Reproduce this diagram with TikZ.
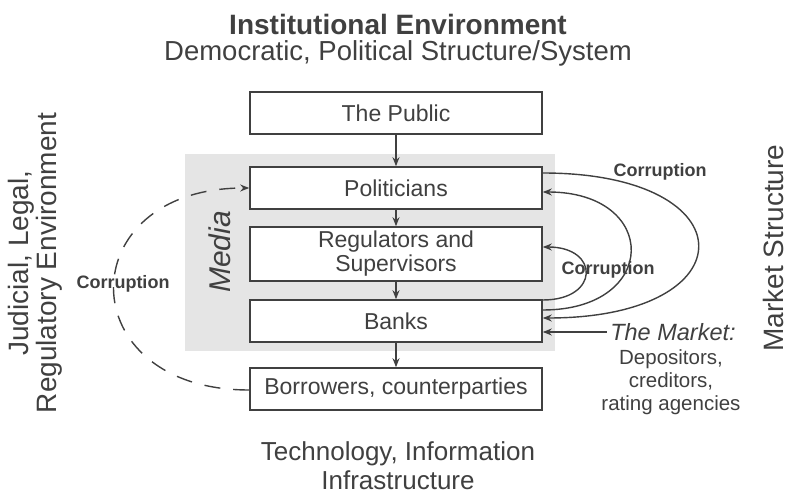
\documentclass[tikz,border=0pt]{standalone}
\usepackage{fontspec}
\setmainfont{Liberation Sans}
\usetikzlibrary{arrows.meta}

\definecolor{ink}{gray}{0.25}
\definecolor{mediagray}{gray}{0.9}

\tikzset{
  box/.style={draw=ink, line width=1.6pt, fill=white, minimum width=292pt,
    minimum height=42pt, inner sep=0pt, align=center, text=ink,
    font=\fontsize{23}{24}\selectfont},
  link/.style={draw=ink, line width=1.4pt, -{Stealth[length=9pt,width=7pt]}},
  sidetext/.style={text=ink, align=center, inner sep=0pt, font=\fontsize{28}{28}\selectfont},
  corr/.style={text=ink, font=\bfseries\fontsize{18}{20}\selectfont},
}

\begin{document}
\begin{tikzpicture}[x=1pt, y=-1pt]
\useasboundingbox (0,0) rectangle (790,494);

% media band behind the chain
\fill[mediagray] (185,154) rectangle (555,351);
\node[rotate=90, text=ink, font=\itshape\fontsize{30}{32}\selectfont] (media) at (220,252) {Media};

\node[sidetext, font=\bfseries\fontsize{28}{30}\selectfont] (inst) at (398,24) {Institutional Environment};
\node[sidetext, font=\fontsize{27.5}{28}\selectfont] (demo) at (398,53) {Democratic, Political Structure/System};

\node[sidetext, rotate=90] (judicial) at (35,263) {Judicial, Legal,\\Regulatory Environment};
\node[sidetext, rotate=90] (structure) at (773,248) {Market Structure};
\node[sidetext, font=\fontsize{26}{29}\selectfont] (tech) at (398,466) {Technology, Information\\Infrastructure};

% the chain of boxes
\node[box] (public) at (396,113) {The Public};
\node[box] (politicians) at (396,188) {Politicians};
\node[box, minimum height=54pt] (regulators) at (396,254) {Regulators and\\Supervisors};
\node[box] (banks) at (396,321) {Banks};
\node[box] (borrowers) at (396,389) {Borrowers, counterparties};

\draw[link] (public) -- (politicians);
\draw[link] (politicians) -- (regulators);
\draw[link] (regulators) -- (banks);
\draw[link] (banks) -- (borrowers);

% market side
\node[text=ink, font=\itshape\fontsize{23.5}{25}\selectfont] (market) at (673,332) {The Market:};
\node[text=ink, align=center, font=\fontsize{20.5}{23}\selectfont] (depositors) at (671,382) {Depositors,\\creditors,\\rating agencies};
\draw[link] (market.west) -- (market.west -| banks.east);

% corruption loops
\node[corr] (corrtop) at (660,172) {Corruption};
\node[corr] (corrmid) at (608,270) {Corruption};
\node[corr] (corrleft) at (123,284) {Corruption};

\draw[link] ([yshift=15pt]politicians.east) .. controls +(207,0) and +(207,0) .. ([yshift=3pt]banks.east);
\draw[link] ([yshift=11pt]banks.east) .. controls +(117,0) and +(117,0) .. ([yshift=-4pt]politicians.east);
\draw[link] ([yshift=21pt]banks.east) .. controls +(57,0) and +(57,0) .. ([yshift=7pt]regulators.east);
\draw[link, dash pattern=on 16pt off 13pt] ([yshift=-1pt]borrowers.west) .. controls +(-180,0) and +(-180,0) .. (politicians.west);
\end{tikzpicture}
\end{document}
